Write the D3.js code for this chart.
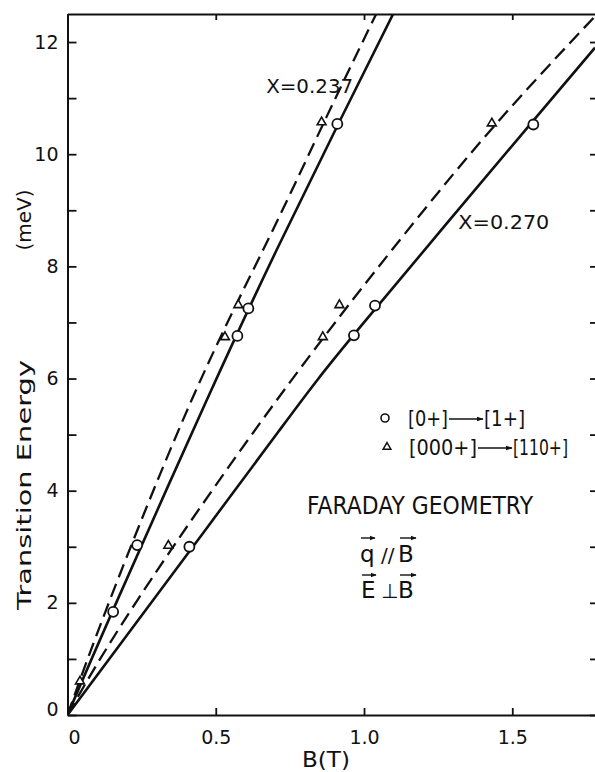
<!DOCTYPE html>
<html><head><meta charset="utf-8">
<script src="https://cdn.jsdelivr.net/npm/d3@7/dist/d3.min.js"></script>
<style>
body{margin:0;background:#fff}
svg{display:block;background:#fff}
text{font-family:"DejaVu Sans",sans-serif;fill:#111}
</style>
</head><body>
<svg id="chart" width="595" height="772"></svg>
<script>
// ---- data ----
const xTicks = [0, 0.5, 1.0, 1.5];
const xTickLabels = ["0", "0.5", "1.0", "1.5"];
const yTicks = [0,1,2,3,4,5,6,7,8,9,10,11,12];
const yTickLabels = ["0","","2","","4","","6","","8","","10","","12"];

// X = 0.237 curves
const line237Solid  = [[0,0],[0.16,1.95],[0.464,5.55],[0.706,8.3],[0.919,10.6],[1.10,12.52]];
const line237Dashed = [[0,0],[0.143,2.05],[0.419,5.62],[0.676,8.47],[0.874,10.67],[1.043,12.52]];
// X = 0.270 curves
const line270Solid  = [[0,0],[0.289,2.05],[0.711,5.05],[1.0,7.0],[1.571,10.6],[1.779,11.9]];
const line270Dashed = [[0,0],[0.236,2.05],[0.694,5.53],[1.121,8.47],[1.447,10.55],[1.779,12.46]];

// circles: [0+] -> [1+]
const circles237 = [[0.154,1.84],[0.235,3.03],[0.573,6.76],[0.61,7.25],[0.91,10.54]];
const circles270 = [[0.411,3.0],[0.966,6.77],[1.037,7.30],[1.571,10.53]];
// triangles: [000+] -> [110+]
const triangles237 = [[0.042,0.6],[0.531,6.74],[0.576,7.31],[0.857,10.57]];
const triangles270 = [[0.340,3.02],[0.861,6.74],[0.917,7.31],[1.431,10.55]];

const curveLabels = [["X=0.237", 0.67, 11.1, 87], ["X=0.270", 1.318, 8.67, 91]];

// ---- layout ----
const svg = d3.select("#chart");
const x = d3.scaleLinear().domain([0, 1.78]).range([67.5, 595.3]);
const y = d3.scaleLinear().domain([0, 12.5]).range([715, 14]);
const ink = "#111";

const defs = svg.append("defs");
defs.append("clipPath").attr("id","plot")
  .append("rect").attr("x", x(0)).attr("y", y(12.5)).attr("width", 600 - x(0)).attr("height", y(0) - y(12.5));

// axes
const axLeft = svg.append("g").attr("transform", `translate(${x(0)},0)`)
  .call(d3.axisLeft(y).tickValues(yTicks).tickSizeInner(-9).tickSizeOuter(0).tickPadding(9)
        .tickFormat((d,i) => yTickLabels[i]));
const axBottom = svg.append("g").attr("transform", `translate(0,${y(0)})`)
  .call(d3.axisBottom(x).tickValues(xTicks).tickSizeInner(-7).tickSizeOuter(0).tickPadding(16)
        .tickFormat((d,i) => xTickLabels[i]));
const axTop = svg.append("g").attr("transform", `translate(0,${y(12.5)})`)
  .call(d3.axisTop(x).tickValues(xTicks).tickSizeInner(-6).tickSizeOuter(0).tickFormat(""));
const axRight = svg.append("g").attr("transform", `translate(600,0)`)
  .call(d3.axisRight(y).tickValues(yTicks).tickSizeInner(-10).tickSizeOuter(0).tickFormat(""));

[axLeft,axBottom,axTop,axRight].forEach(g => {
  g.select(".domain").attr("stroke", ink).attr("stroke-width", 2);
  g.selectAll(".tick line").attr("stroke", ink).attr("stroke-width", 1.8);
  g.selectAll(".tick text").attr("font-size", 19).attr("fill", ink)
   .style("font-family", '"DejaVu Sans",sans-serif');
});
axLeft.selectAll(".tick text").attr("dy", "0.32em");
axBottom.selectAll(".tick").filter(d => d === 0).select("line").remove();
axBottom.selectAll(".tick").filter(d => d === 0).select("text").attr("x", 6.5);
axLeft.selectAll(".tick").filter(d => d === 0).select("text").attr("dy","0.05em");

// axis titles
svg.append("text").attr("transform", "translate(31,485) rotate(-90)")
  .attr("text-anchor","middle").attr("font-size",20).attr("textLength",250)
  .attr("lengthAdjust","spacingAndGlyphs").text("Transition Energy");
svg.append("text").attr("transform", "translate(31,220) rotate(-90)")
  .attr("text-anchor","middle").attr("font-size",20).text("(meV)");
svg.append("text").attr("x", 326).attr("y", 767).attr("text-anchor","middle")
  .attr("font-size",21).attr("textLength",48).attr("lengthAdjust","spacingAndGlyphs").text("B(T)");

// curves
const lineGen = d3.line().x(d => x(d[0])).y(d => y(d[1])).curve(d3.curveNatural);
const plot = svg.append("g").attr("clip-path","url(#plot)");
[[line237Solid,false],[line237Dashed,true],[line270Solid,false],[line270Dashed,true]].forEach(([data,dashed]) => {
  plot.append("path").datum(data).attr("d", lineGen).attr("fill","none")
    .attr("stroke", ink).attr("stroke-width", dashed ? 2.3 : 2.6)
    .attr("stroke-dasharray", dashed ? "14,7" : null);
});

// markers
const circ = circles237.concat(circles270);
svg.append("g").selectAll("circle").data(circ).join("circle")
  .attr("cx", d => x(d[0])).attr("cy", d => y(d[1])).attr("r", 5)
  .attr("fill","#fff").attr("stroke", ink).attr("stroke-width", 1.8);
const tri = triangles237.concat(triangles270);
const triPath = d3.symbol().type(d3.symbolTriangle).size(34);
svg.append("g").selectAll("path").data(tri).join("path")
  .attr("transform", d => `translate(${x(d[0])},${y(d[1])})`)
  .attr("d", triPath).attr("fill","#fff").attr("stroke", ink).attr("stroke-width", 1.6);

// curve labels
curveLabels.forEach(([t, bx, by, w]) => {
  svg.append("text").attr("x", x(bx)).attr("y", y(by)).attr("font-size", 20)
    .attr("textLength", w).attr("lengthAdjust","spacingAndGlyphs").text(t);
});

// legend
defs.append("marker").attr("id","ah").attr("viewBox","0 0 10 10").attr("refX",9).attr("refY",5)
  .attr("markerWidth",7).attr("markerHeight",7).attr("markerUnits","userSpaceOnUse").attr("orient","auto")
  .append("path").attr("d","M0,1.5 L10,5 L0,8.5 Z").attr("fill", ink);
defs.append("marker").attr("id","vh").attr("viewBox","0 0 10 10").attr("refX",9).attr("refY",5)
  .attr("markerWidth",6).attr("markerHeight",6).attr("markerUnits","userSpaceOnUse").attr("orient","auto")
  .append("path").attr("d","M0,1 L10,5 L0,9 Z").attr("fill", ink);

const lg = svg.append("g");
lg.append("circle").attr("cx",385).attr("cy",418).attr("r",4).attr("fill","#fff").attr("stroke",ink).attr("stroke-width",1.6);
lg.append("path").attr("transform","translate(387,447)").attr("d", d3.symbol().type(d3.symbolTriangle).size(26))
  .attr("fill","#fff").attr("stroke",ink).attr("stroke-width",1.5);
const row = (yb, lft, arrow0, arrow1, rgt, tl, tr) => {
  lg.append("text").attr("x", lft[0]).attr("y", yb).attr("font-size",21)
    .attr("textLength", lft[1]).attr("lengthAdjust","spacingAndGlyphs").text(tl);
  lg.append("line").attr("x1",arrow0).attr("x2",arrow1).attr("y1",yb-7).attr("y2",yb-7)
    .attr("stroke",ink).attr("stroke-width",1.6).attr("marker-end","url(#ah)");
  lg.append("text").attr("x", rgt[0]).attr("y", yb).attr("font-size",21)
    .attr("textLength", rgt[1]).attr("lengthAdjust","spacingAndGlyphs").text(tr);
};
row(426, [408,40], 449, 483, [484,41], "[0+]", "[1+]");
row(455, [409,68], 478, 512, [513,55], "[000+]", "[110+]");

svg.append("text").attr("x",307).attr("y",514).attr("font-size",24)
  .attr("textLength",226).attr("lengthAdjust","spacingAndGlyphs").text("FARADAY GEOMETRY");

// vector relations
const vec = (x0, x1, yy) => svg.append("line").attr("x1",x0).attr("x2",x1).attr("y1",yy).attr("y2",yy)
  .attr("stroke",ink).attr("stroke-width",1.4).attr("marker-end","url(#vh)");
svg.append("text").attr("x",360).attr("y",562).attr("font-size",23).text("q");
svg.append("text").attr("x",381).attr("y",562).attr("font-size",20).text("//");
svg.append("text").attr("x",398).attr("y",562).attr("font-size",23).text("B");
vec(361, 375, 538); vec(400, 416, 538);
svg.append("text").attr("x",361).attr("y",598).attr("font-size",23).text("E");
svg.append("text").attr("x",381).attr("y",598).attr("font-size",20).text("⊥");
svg.append("text").attr("x",398).attr("y",598).attr("font-size",23).text("B");
vec(362, 376, 575); vec(400, 416, 575);
</script>
</body></html>
